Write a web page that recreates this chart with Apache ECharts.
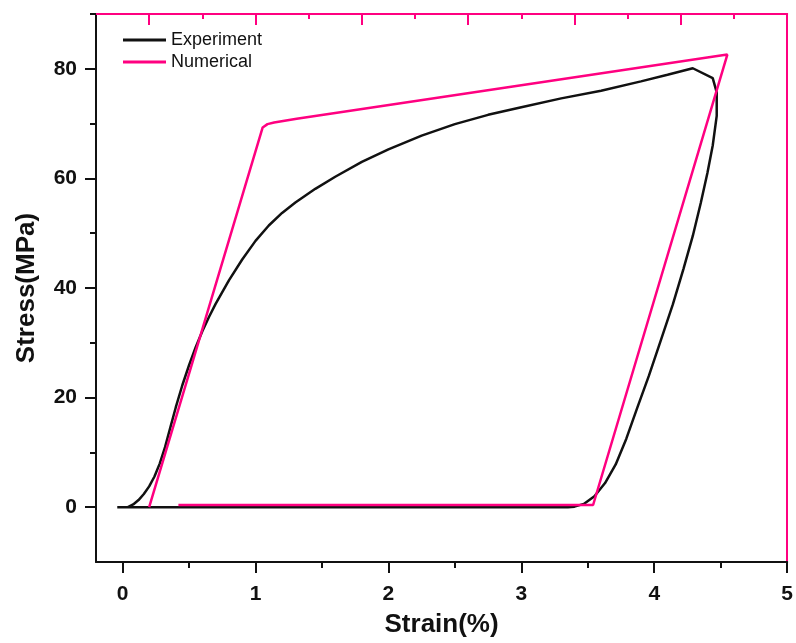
<!DOCTYPE html>
<html>
<head>
<meta charset="utf-8">
<script src="https://cdn.jsdelivr.net/npm/echarts@6/dist/echarts.min.js"></script>
<style>
  html, body { margin: 0; padding: 0; background: #fff; }
  #chart { width: 796px; height: 643px; }
</style>
</head>
<body>
<div id="chart"></div>
<script>
// Experiment loop (strain %, stress MPa)
const expStrain = [-0.04, 0.04, 0.08, 0.12, 0.16, 0.2, 0.24, 0.28, 0.32, 0.36, 0.4, 0.45, 0.5, 0.55, 0.6, 0.65, 0.7, 0.8, 0.9, 1.0, 1.1, 1.2, 1.3, 1.45, 1.6, 1.8, 2.0, 2.25, 2.5, 2.75, 3.0, 3.3, 3.6, 3.9, 4.1, 4.29,
  4.44, 4.47, 4.47, 4.44, 4.4, 4.35, 4.29, 4.22, 4.14, 4.05, 3.96, 3.87, 3.79, 3.71, 3.63, 3.55, 3.47, 3.4, 3.35, 0.0];
const expStress = [0, 0, 0.5, 1.3, 2.4, 3.8, 5.6, 8.0, 11.0, 14.6, 18.2, 22.3, 25.9, 29.2, 32.1, 34.7, 37.1, 41.4, 45.2, 48.6, 51.4, 53.7, 55.6, 58.1, 60.3, 63.0, 65.3, 67.8, 69.9, 71.6, 73.0, 74.6, 76.0, 77.7, 78.9, 80.1,
  78.3, 75.7, 71.4, 66.0, 61.0, 55.5, 49.5, 43.5, 37.0, 30.5, 24.0, 18.0, 12.5, 7.8, 4.4, 2.0, 0.6, 0.1, 0, 0];

// Numerical loop
const numStrain = [0.2, 1.054, 1.09, 1.14, 1.31, 4.55, 3.54, 0.42];
const numStress = [0, 69.3, 69.9, 70.2, 70.9, 82.6, 0.4, 0.4];

// ticks and labels
const xMajor = [0, 1, 2, 3, 4, 5];
const xMinor = [0.5, 1.5, 2.5, 3.5, 4.5];
const yMajor = [0, 20, 40, 60, 80];
const yMinor = [10, 30, 50, 70, 90];
const topLong = [0.2, 1.0, 1.8, 2.6, 3.4, 4.2, 5.0];
const topShort = [0.6, 1.4, 2.2, 3.0, 3.8, 4.6];

const PINK = '#ff0080';
const FONT = 'Liberation Sans, Arial, sans-serif';

const chart = echarts.init(document.getElementById('chart'));

const pair = (xs, ys) => xs.map((x, i) => [x, ys[i]]);
const xRange = { type: 'value', min: -0.2, max: 5, splitLine: { show: false } };
const yRange = { type: 'value', min: -10, max: 90, splitLine: { show: false } };

chart.setOption({
  animation: false,
  backgroundColor: '#fff',
  grid: { left: 96, right: 8, top: 14, bottom: 73 },
  legend: {
    orient: 'vertical',
    left: 123,
    top: 31,
    padding: 0,
    itemGap: 4,
    itemWidth: 43,
    itemHeight: 3,
    icon: 'rect',
    textStyle: { fontFamily: FONT, fontSize: 18, color: '#111' },
    data: ['Experiment', 'Numerical']
  },
  xAxis: [
    {
      ...xRange,
      position: 'bottom',
      name: 'Strain(%)',
      nameLocation: 'middle',
      nameGap: 50,
      nameTextStyle: { fontFamily: FONT, fontSize: 26, fontWeight: 'bold', color: '#111' },
      axisLine: { onZero: false, lineStyle: { color: '#111', width: 2 } },
      axisTick: { customValues: xMajor, length: 11, lineStyle: { color: '#111', width: 2 } },
      axisLabel: {
        customValues: xMajor, margin: 22,
        fontFamily: FONT, fontSize: 21, fontWeight: 'bold', color: '#111'
      }
    },
    {
      ...xRange,
      position: 'bottom',
      axisLine: { show: false, onZero: false },
      axisTick: { customValues: xMinor, length: 6, lineStyle: { color: '#111', width: 2 } },
      axisLabel: { show: false }
    },
    {
      ...xRange,
      position: 'top',
      axisLine: { onZero: false, lineStyle: { color: PINK, width: 2 } },
      axisTick: { inside: true, customValues: topLong, length: 11, lineStyle: { color: PINK, width: 2 } },
      axisLabel: { show: false }
    },
    {
      ...xRange,
      position: 'top',
      axisLine: { show: false, onZero: false },
      axisTick: { inside: true, customValues: topShort, length: 5, lineStyle: { color: PINK, width: 2 } },
      axisLabel: { show: false }
    }
  ],
  yAxis: [
    {
      ...yRange,
      position: 'left',
      name: 'Stress(MPa)',
      nameLocation: 'middle',
      nameGap: 56,
      nameTextStyle: { fontFamily: FONT, fontSize: 26, fontWeight: 'bold', color: '#111' },
      axisLine: { onZero: false, lineStyle: { color: '#111', width: 2 } },
      axisTick: { customValues: yMajor, length: 11, lineStyle: { color: '#111', width: 2 } },
      axisLabel: {
        customValues: yMajor, margin: 19,
        fontFamily: FONT, fontSize: 21, fontWeight: 'bold', color: '#111'
      }
    },
    {
      ...yRange,
      position: 'left',
      axisLine: { show: false, onZero: false },
      axisTick: { customValues: yMinor, length: 6, lineStyle: { color: '#111', width: 2 } },
      axisLabel: { show: false }
    },
    {
      ...yRange,
      position: 'right',
      axisLine: { onZero: false, lineStyle: { color: PINK, width: 2 } },
      axisTick: { show: false },
      axisLabel: { show: false }
    }
  ],
  series: [
    {
      name: 'Experiment',
      type: 'line',
      data: pair(expStrain, expStress),
      showSymbol: false,
      color: '#111',
      lineStyle: { color: '#111', width: 2.5 }
    },
    {
      name: 'Numerical',
      type: 'line',
      data: pair(numStrain, numStress),
      showSymbol: false,
      color: PINK,
      lineStyle: { color: PINK, width: 2.5 }
    }
  ]
});
</script>
</body>
</html>
